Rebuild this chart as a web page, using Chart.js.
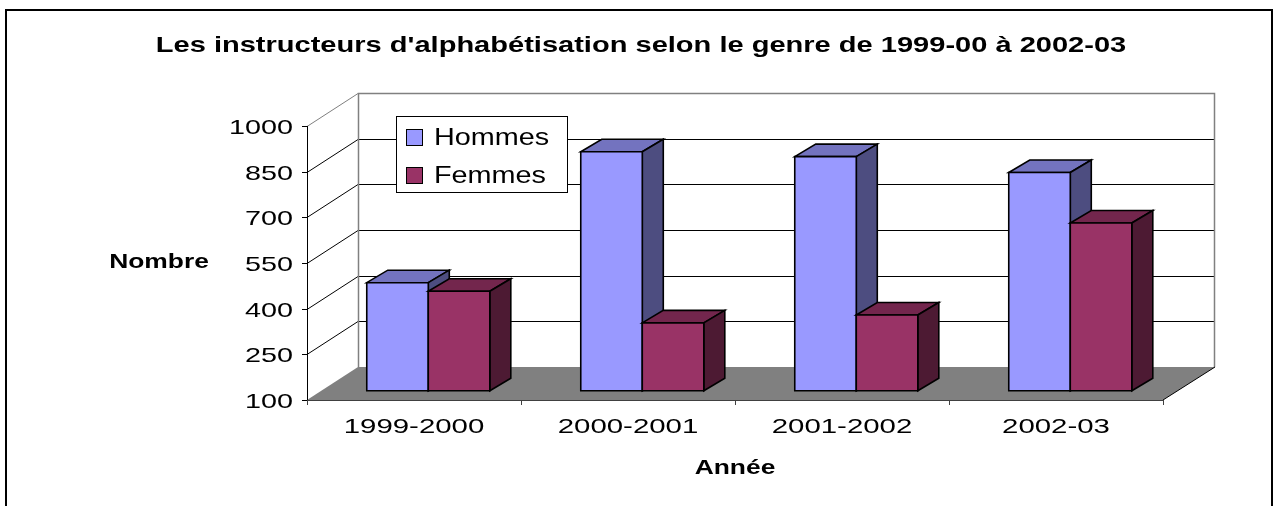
<!DOCTYPE html>
<html lang="fr">
<head>
<meta charset="utf-8">
<title>Instructeurs d'alphabétisation</title>
<script src="https://cdn.jsdelivr.net/npm/chart.js@4.4.1/dist/chart.umd.min.js"></script>
<style>
  html, body { margin: 0; padding: 0; background: #fff; }
  canvas { display: block; }
</style>
</head>
<body>
<canvas id="chart" width="1278" height="506"></canvas>
<script>
const categories = ['1999-2000', '2000-2001', '2001-2002', '2002-03'];
const hommes = [455, 885, 869, 817];
const femmes = [427, 323, 349, 651];
const yTicks = [100, 250, 400, 550, 700, 850, 1000];

const titleText = "Les instructeurs d'alphabétisation selon le genre de 1999-00 à 2002-03";
const yTitle = 'Nombre';
const xTitle = 'Année';

const FONT = '"Liberation Sans", Arial, sans-serif';

// depth of the 3d box (walls) and of the bars
const WALL = { dx: 51, dy: -33 };
const BAR_FRONT = 0.28;           // fraction of the wall depth where bar fronts sit
const BAR = { dx: 21, dy: -12.5 };

// text in the chart is drawn a bit wider than the plain font
function stretchedText(ctx, text, x, y, font, align, sx) {
  ctx.save();
  ctx.font = font;
  ctx.textAlign = align;
  ctx.textBaseline = 'alphabetic';
  ctx.fillStyle = '#000';
  ctx.translate(x, y);
  ctx.scale(sx, 1);
  ctx.fillText(text, 0, 0);
  ctx.restore();
}

function line(ctx, x1, y1, x2, y2, color, w) {
  ctx.beginPath();
  ctx.moveTo(x1, y1);
  ctx.lineTo(x2, y2);
  ctx.strokeStyle = color;
  ctx.lineWidth = w || 1;
  ctx.stroke();
}

function poly(ctx, pts, fill, stroke, w) {
  ctx.beginPath();
  ctx.moveTo(pts[0][0], pts[0][1]);
  for (let i = 1; i < pts.length; i++) ctx.lineTo(pts[i][0], pts[i][1]);
  ctx.closePath();
  if (fill) { ctx.fillStyle = fill; ctx.fill(); }
  if (stroke) { ctx.strokeStyle = stroke; ctx.lineWidth = w || 1; ctx.lineJoin = 'miter'; ctx.stroke(); }
}

const box3d = {
  id: 'box3d',
  beforeDraw(chart) {
    const ctx = chart.ctx;
    ctx.save();
    ctx.fillStyle = '#fff';
    ctx.fillRect(0, 0, chart.width, chart.height);
    ctx.restore();
  },
  beforeDatasetsDraw(chart) {
    const ctx = chart.ctx;
    const ca = chart.chartArea;
    const ys = chart.scales.y;
    const xs = chart.scales.x;
    const x0 = ca.left, x1 = ca.right;
    const bx0 = x0 + WALL.dx, bx1 = x1 + WALL.dx;
    const yTop = ys.getPixelForValue(yTicks[yTicks.length - 1]);
    const yBot = ys.getPixelForValue(yTicks[0]);

    ctx.save();
    // back wall gridlines and left wall diagonals
    yTicks.forEach((v, i) => {
      const y = Math.round(ys.getPixelForValue(v)) + 0.5;
      const by = y + WALL.dy;
      if (i > 0 && i < yTicks.length - 1) {
        line(ctx, bx0, by, bx1, by, '#000', 1);
      }
      if (i > 0) {
        line(ctx, x0, y, bx0, by, i === yTicks.length - 1 ? '#808080' : '#000', 1);
      }
    });
    // wall edges
    ctx.beginPath();
    ctx.moveTo(bx0 + 0.5, yBot + WALL.dy);
    ctx.lineTo(bx0 + 0.5, Math.round(yTop) + WALL.dy + 0.5);
    ctx.lineTo(bx1 + 0.5, Math.round(yTop) + WALL.dy + 0.5);
    ctx.lineTo(bx1 + 0.5, yBot + WALL.dy);
    ctx.strokeStyle = '#808080';
    ctx.lineWidth = 1.5;
    ctx.stroke();

    // floor
    poly(ctx, [[x0, yBot], [bx0, yBot + WALL.dy], [bx1 + 1, yBot + WALL.dy], [x1, yBot]], '#808080');
    line(ctx, x1, yBot, bx1 + 1, yBot + WALL.dy, '#000', 1);

    // value axis
    line(ctx, x0 + 0.5, yTop, x0 + 0.5, yBot, '#000', 1);
    yTicks.forEach(v => {
      const y = Math.round(ys.getPixelForValue(v)) + 0.5;
      line(ctx, x0 - 5, y, x0 + 0.5, y, '#000', 1);
    });
    // category axis
    line(ctx, x0, yBot + 0.5, x1, yBot + 0.5, '#404040', 1);
    const bounds = [x0];
    for (let i = 1; i < categories.length; i++) {
      bounds.push((xs.getPixelForValue(i - 1) + xs.getPixelForValue(i)) / 2);
    }
    bounds.push(x1);
    bounds.forEach(bx => line(ctx, Math.round(bx) + 0.5, yBot, Math.round(bx) + 0.5, yBot + 5, '#404040', 1));

    // bars as boxes, left to right; bars stand on the floor (axis minimum)
    const fx = WALL.dx * BAR_FRONT, fy = WALL.dy * BAR_FRONT;
    const floorPx = ys.getPixelForValue(ys.min);
    for (let i = 0; i < categories.length; i++) {
      chart.data.datasets.forEach((ds, d) => {
        const el = chart.getDatasetMeta(d).data[i];
        const p = el.getProps(['x', 'y', 'base', 'width'], true);
        const L = p.x - p.width / 2 + fx, R = p.x + p.width / 2 + fx;
        const T = p.y + fy, B = Math.min(p.base, floorPx) + fy;
        poly(ctx, [[L, T], [L + BAR.dx, T + BAR.dy], [R + BAR.dx, T + BAR.dy], [R, T]], ds.topColor, '#000', 1.6);
        poly(ctx, [[R, T], [R + BAR.dx, T + BAR.dy], [R + BAR.dx, B + BAR.dy], [R, B]], ds.sideColor, '#000', 1.6);
        poly(ctx, [[L, T], [R, T], [R, B], [L, B]], ds.backgroundColor, '#000', 1.6);
      });
    }
    ctx.restore();
    return false;
  },
  afterDraw(chart) {
    const ctx = chart.ctx;
    const ys = chart.scales.y;
    const xs = chart.scales.x;
    const ca = chart.chartArea;

    // tick labels
    yTicks.forEach(v => {
      stretchedText(ctx, String(v), ca.left - 14, ys.getPixelForValue(v) + 8, '21px ' + FONT, 'right', 1.37);
    });
    categories.forEach((c, i) => {
      stretchedText(ctx, c, xs.getPixelForValue(i), 433, '21px ' + FONT, 'center', 1.4);
    });

    // titles
    stretchedText(ctx, titleText, 641, 52, 'bold 22px ' + FONT, 'center', 1.32);
    stretchedText(ctx, yTitle, 159, 268, 'bold 20px ' + FONT, 'center', 1.32);
    stretchedText(ctx, xTitle, (ca.left + ca.right) / 2, 474, 'bold 20px ' + FONT, 'center', 1.32);

    // legend
    ctx.save();
    ctx.fillStyle = '#fff';
    ctx.fillRect(396.5, 116.5, 171, 76);
    ctx.strokeStyle = '#000';
    ctx.lineWidth = 1;
    ctx.strokeRect(396.5, 116.5, 171, 76);
    chart.data.datasets.forEach((ds, d) => {
      const sy = 129 + d * 38;
      ctx.fillStyle = ds.backgroundColor;
      ctx.fillRect(406.5, sy + 0.5, 16, 16);
      ctx.strokeStyle = '#000';
      ctx.strokeRect(406.5, sy + 0.5, 16, 16);
      stretchedText(ctx, ds.label, 434, sy + 16, '24px ' + FONT, 'left', 1.2);
    });
    ctx.restore();

    // outer frame
    ctx.save();
    ctx.strokeStyle = '#000';
    ctx.lineWidth = 2;
    ctx.strokeRect(6, 10, 1266, 520);
    ctx.restore();
  }
};

new Chart(document.getElementById('chart'), {
  type: 'bar',
  data: {
    labels: categories,
    datasets: [
      {
        label: 'Hommes',
        data: hommes,
        backgroundColor: '#9999FF',
        topColor: '#7373BF',
        sideColor: '#4D4D80',
        categoryPercentage: 0.575,
        barPercentage: 1
      },
      {
        label: 'Femmes',
        data: femmes,
        backgroundColor: '#993366',
        topColor: '#73264D',
        sideColor: '#4D1A33',
        categoryPercentage: 0.575,
        barPercentage: 1
      }
    ]
  },
  options: {
    responsive: false,
    devicePixelRatio: 1,
    animation: false,
    layout: { padding: { left: 307, top: 126, right: 115, bottom: 106 } },
    scales: {
      x: { display: false },
      y: { display: false, min: 100, max: 1000 }
    },
    plugins: {
      legend: { display: false },
      title: { display: false },
      tooltip: { enabled: false }
    }
  },
  plugins: [box3d]
});
</script>
</body>
</html>
